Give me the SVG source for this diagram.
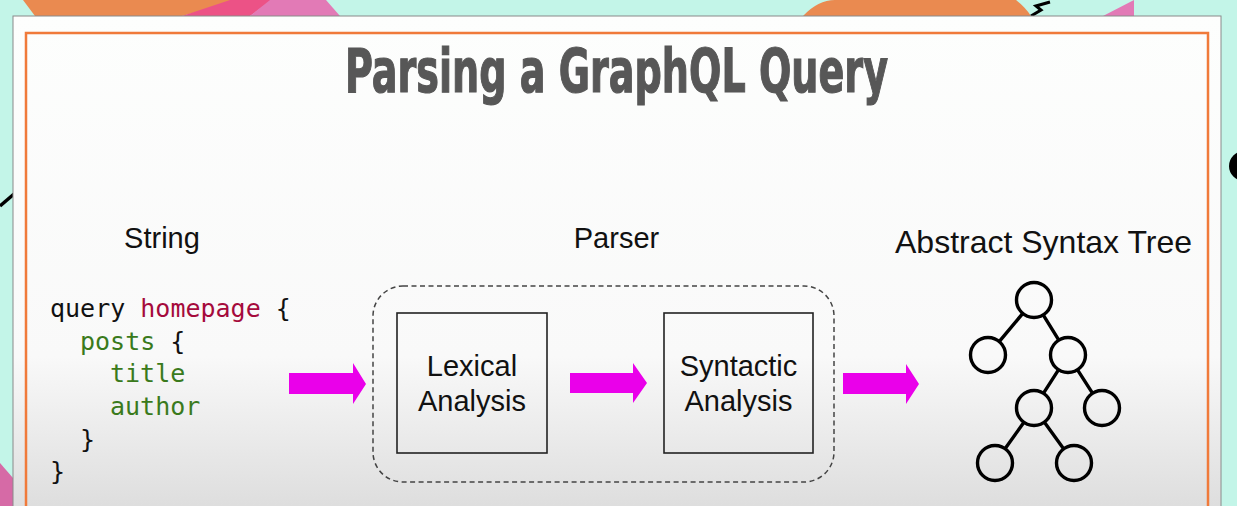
<svg xmlns="http://www.w3.org/2000/svg" width="1237" height="506" viewBox="0 0 1237 506">
  <defs>
    <linearGradient id="panelGrad" x1="0" y1="0" x2="0" y2="1" gradientUnits="objectBoundingBox">
      <stop offset="0" stop-color="#fdfefd"/>
      <stop offset="0.68" stop-color="#f9f9f9"/>
      <stop offset="1" stop-color="#dcdcdc"/>
    </linearGradient>
    <style>
      .lbl { font-family: "Liberation Sans", Arial, Helvetica, sans-serif; fill: #111; text-anchor: middle; }
      .code { font-family: "DejaVu Sans Mono", "Liberation Mono", monospace; font-size: 25px; fill: #111; white-space: pre; }
      .kw { fill: #a50a3c; }
      .fld { fill: #3a7a1c; }
      .box { fill: none; stroke: #222; stroke-width: 1.6; }
      .arrow { fill: #ea00ea; }
      .tn { fill: none; stroke: #000; stroke-width: 3.4; }
      .te { stroke: #000; stroke-width: 3.4; stroke-linecap: round; }
    </style>
  </defs>

  <!-- background -->
  <rect x="0" y="0" width="1237" height="506" fill="#c3f5e8"/>
  <path d="M23,0 L240,0 L182,16 L35,16 Z" fill="#ea8a50"/>
  <path d="M182,16 L230,0 L272,0 L250,16 Z" fill="#ec5286"/>
  <path d="M250,16 L270,0 L326,0 L340,16 Z" fill="#e27ab6"/>
  <path d="M803,16 Q818,0 835,0 L1016,0 Q1025,7 1031,16 Z" fill="#ea8a50"/>
  <path d="M1050,2 L1036,6 L1041,10 L1031,16" fill="none" stroke="#000" stroke-width="3"/>
  <path d="M1103,16 L1134,0 L1134,16 Z" fill="#e27ab6"/>
  <path d="M0,206 L14,194" stroke="#000" stroke-width="3.5"/>
  <path d="M0,463 L13,478 L13,506 L0,506 Z" fill="#d66aa6"/>
  <circle cx="1244" cy="166" r="15" fill="#000"/>

  <!-- slide panel -->
  <rect x="13" y="16" width="1208" height="500" fill="url(#panelGrad)" stroke="#8a8a8a" stroke-width="1"/>
  <rect x="26" y="33" width="1182" height="490" fill="none" stroke="#f07a3a" stroke-width="2.5"/>

  <!-- title -->
  <text x="616.5" y="92" text-anchor="middle" textLength="543" lengthAdjust="spacingAndGlyphs" font-family="'Liberation Sans Narrow', 'DejaVu Sans Condensed', 'Liberation Sans', sans-serif" font-weight="bold" font-size="61" fill="#575757" stroke="#575757" stroke-width="1.2">Parsing a GraphQL Query</text>

  <!-- String node -->
  <g id="string">
    <text class="lbl" x="162" y="248" font-size="29">String</text>
    <text class="code" x="50" y="317">query <tspan class="kw">homepage</tspan> {</text>
    <text class="code" x="80" y="350"><tspan class="fld">posts</tspan> {</text>
    <text class="code fld" x="110" y="382">title</text>
    <text class="code fld" x="110" y="415">author</text>
    <text class="code" x="80" y="448">}</text>
    <text class="code" x="50" y="480">}</text>
  </g>

  <!-- Parser node -->
  <g id="parser">
    <text class="lbl" x="616.5" y="248" font-size="29">Parser</text>
    <rect x="373" y="286" width="461" height="196" rx="30" ry="30" fill="none" stroke="#444" stroke-width="1.5" stroke-dasharray="5 3.5"/>
  </g>

  <g id="lexical">
    <rect class="box" x="397" y="313" width="150" height="140"/>
    <text class="lbl" x="472" y="376" font-size="29">Lexical</text>
    <text class="lbl" x="472" y="411" font-size="29">Analysis</text>
  </g>

  <g id="syntactic">
    <rect class="box" x="664" y="313" width="149" height="140"/>
    <text class="lbl" x="738.5" y="376" font-size="29">Syntactic</text>
    <text class="lbl" x="738.5" y="411" font-size="29">Analysis</text>
  </g>

  <!-- AST node -->
  <g id="ast">
    <text class="lbl" x="1043.5" y="253" font-size="32">Abstract Syntax Tree</text>
    <g>
      <line class="te" x1="1022.4" y1="313.8" x2="999.6" y2="341.2"/>
      <line class="te" x1="1043.5" y1="315.3" x2="1058.5" y2="339.7"/>
      <line class="te" x1="1058.3" y1="370.1" x2="1043.7" y2="392.9"/>
      <line class="te" x1="1077.7" y1="370.1" x2="1092.3" y2="392.9"/>
      <line class="te" x1="1023.6" y1="422.7" x2="1005.4" y2="448.3"/>
      <line class="te" x1="1044.6" y1="422.6" x2="1063.4" y2="448.4"/>
      <circle class="tn" cx="1034" cy="300" r="17.5"/>
      <circle class="tn" cx="988" cy="355" r="17.5"/>
      <circle class="tn" cx="1068" cy="355" r="17.5"/>
      <circle class="tn" cx="1034" cy="408" r="17.5"/>
      <circle class="tn" cx="1102" cy="408" r="17.5"/>
      <circle class="tn" cx="995" cy="463" r="17.5"/>
      <circle class="tn" cx="1074" cy="463" r="17.5"/>
    </g>
  </g>

  <!-- connectors -->
  <g id="connectors">
    <path class="arrow" d="M289,373 H353 V363 L366,384 L353,404 V394 H289 Z"/>
    <path class="arrow" d="M570,373 H633 V363 L647,383 L633,403 V393 H570 Z"/>
    <path class="arrow" d="M843,373 H906 V364 L919,384 L906,404 V394 H843 Z"/>
  </g>
</svg>
